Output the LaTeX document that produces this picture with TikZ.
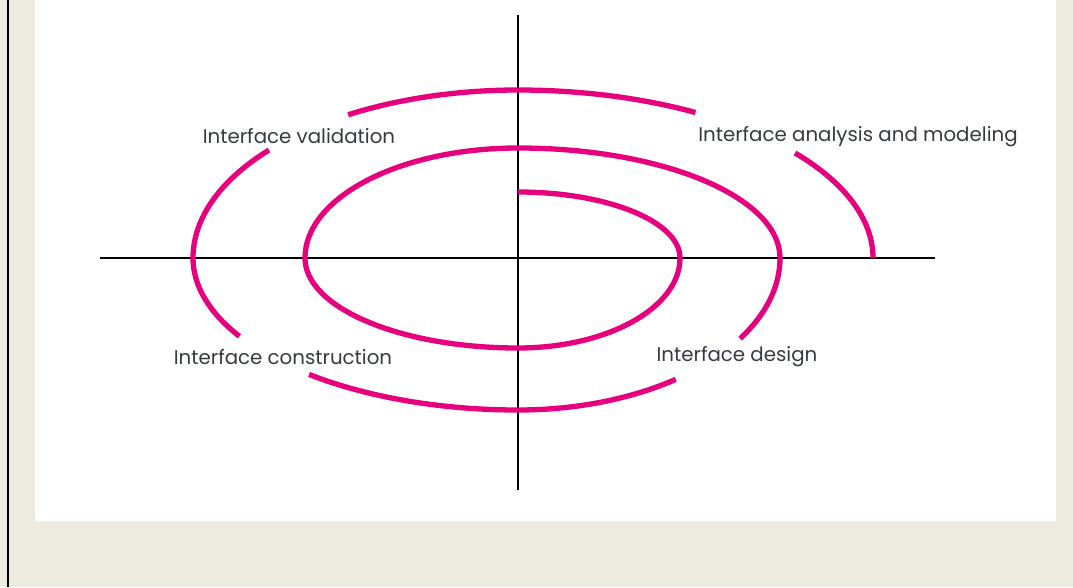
\documentclass[tikz,border=0pt]{standalone}
\usepackage{fontspec}
\setmainfont{Poppins}

\definecolor{spiralpink}{RGB}{230,0,126}
\definecolor{pagebeige}{RGB}{237,234,224}
\definecolor{labelgray}{RGB}{55,58,66}

\begin{document}
\begin{tikzpicture}[x=1pt,y=1pt]
  \tikzstyle{spiral}=[draw=spiralpink,line width=5.3pt]
  \tikzstyle{axis}=[draw=black,line width=2.3pt]
  \tikzstyle{lbl}=[text=labelgray,inner sep=0pt,font=\fontsize{19.8}{22}\selectfont]
  % page and panel
  \fill[pagebeige] (-518,-329) rectangle (555,258);
  \useasboundingbox (-518,-329) rectangle (555,258);
  \fill[white] (-483,-263) rectangle (538,258);
  \draw[line width=2pt] (-510,-329) -- (-510,258);
  % axes
  \coordinate (top) at (0,243);
  \coordinate (bottom) at (0,-232);
  \coordinate (left) at (-418,0);
  \coordinate (right) at (417,0);
  \draw[axis] (top) -- (bottom);
  \draw[axis] (left) -- (right);
  % spiral, inner turns
  \draw[spiral] (0,66)
    arc[start angle=90,end angle=0,x radius=162,y radius=66]
    arc[start angle=0,end angle=-90,x radius=162,y radius=90]
    arc[start angle=270,end angle=180,x radius=213,y radius=90]
    arc[start angle=180,end angle=90,x radius=213,y radius=110]
    arc[start angle=90,end angle=0,x radius=262,y radius=110]
    arc[start angle=0,end angle=-32,x radius=262,y radius=152];
  % outer turn, broken by the labels
  \draw[spiral] (-53:262 and 152)
    arc[start angle=-53,end angle=-90,x radius=262,y radius=152]
    arc[start angle=270,end angle=230,x radius=325,y radius=152];
  \draw[spiral] (211:325 and 152)
    arc[start angle=211,end angle=180,x radius=325,y radius=152]
    arc[start angle=180,end angle=140,x radius=325,y radius=168];
  \draw[spiral] (121.5:325 and 168)
    arc[start angle=121.5,end angle=90,x radius=325,y radius=168]
    arc[start angle=90,end angle=60,x radius=355,y radius=168];
  \draw[spiral] (38.7:355 and 168)
    arc[start angle=38.7,end angle=0,x radius=355,y radius=168];
  % phases
  \node[lbl] (validation) at (-219,122) {Interface validation};
  \node[lbl] (analysis) at (340,121) {Interface analysis and modeling};
  \node[lbl] (construction) at (-235,-99) {Interface construction};
  \node[lbl] (design) at (219,-99) {Interface design};
\end{tikzpicture}
\end{document}
